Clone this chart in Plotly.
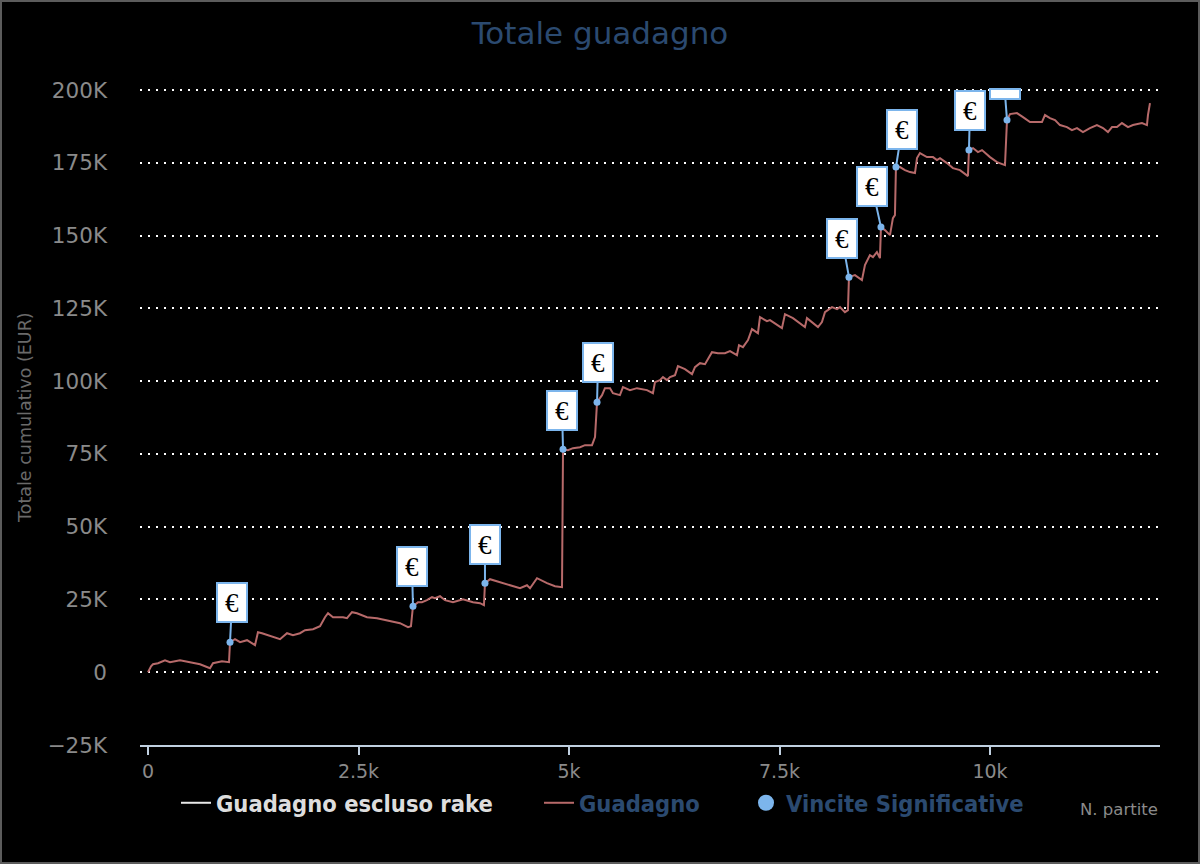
import plotly.graph_objects as go

# ---- data ----
games = [0, 36, 59, 119, 202, 261, 380, 499, 618, 736, 772, 879, 962, 974,
         1033, 1093, 1176, 1271, 1306, 1354, 1485, 1568, 1651, 1722, 1805, 1865, 1960, 2043, 2102, 2138,
         2197, 2316, 2363, 2423, 2482, 2601, 2720, 2838, 2993, 3088, 3123, 3147,
         3207, 3254, 3313, 3373, 3408, 3468, 3527, 3622, 3741, 3860, 3943, 3990, 4002,
         4062, 4180, 4299, 4418, 4501, 4537, 4620, 4739, 4834, 4917, 4929,
         4988, 5047, 5131, 5190, 5273, 5309, 5321, 5333,
         5392, 5427, 5487, 5522, 5605, 5641, 5724, 5807, 5926, 5997, 6021, 6080, 6116, 6164, 6199,
         6259, 6294, 6377, 6461, 6496, 6556, 6615, 6698, 6769, 6852, 6912, 6995, 7019, 7066, 7126,
         7173, 7244, 7268, 7351, 7387, 7529, 7565, 7660, 7802, 7826, 7957, 8004, 8040, 8123, 8183,
         8218, 8277, 8313, 8325,
         8396, 8479, 8515, 8574, 8610, 8657, 8693, 8705,
         8752, 8812, 8847, 8871, 8883,
         8931, 8990, 9050, 9109, 9133, 9168, 9251, 9323, 9370, 9406, 9489, 9560, 9643, 9738, 9750,
         9798, 9857, 9905, 10000, 10083, 10178, 10202,
         10237, 10320, 10392, 10475, 10558, 10617, 10653, 10712, 10772, 10831, 10914, 10973, 11033,
         11104, 11187, 11270, 11342, 11401, 11449, 11508, 11567, 11639, 11698, 11805, 11864, 11876, 11900]

profit = [0, 2060, 2750, 3090, 4120, 3440, 4120, 3440, 2750, 1370, 3090, 3780, 3440, 10310,
          11340, 10310, 11000, 9280, 13740, 13400, 12030, 11340, 13400, 12710, 13400, 14430, 14780, 15810, 18900, 20270,
          18900, 18900, 18550, 20620, 20270, 18900, 18550, 17870, 16840, 15460, 15810, 22680,
          24050, 24050, 24740, 25770, 25430, 26110, 24740, 24050, 25080, 24050, 23710, 23020, 30580,
          31960, 30920, 29890, 28860, 29890, 28860, 32300, 30580, 29550, 29210, 76620,
          76280, 76970, 77310, 78000, 78000, 80750, 85560, 92770,
          95180, 97580, 97580, 95860, 95180, 97930, 96900, 97580, 96900, 95860, 99640, 100330, 101360, 100330, 101360,
          102050, 105140, 104110, 102390, 104800, 106170, 105830, 109950, 109610, 109610, 110300, 108920, 112360, 111670, 114080,
          117860, 116480, 121980, 120600, 120950, 118200, 123010, 121630, 118540, 121630, 118540, 120260, 123700, 125410, 124730,
          125410, 123700, 124380, 135720,
          136410, 134690, 139850, 143280, 142600, 144310, 142250, 152900,
          151870, 150150, 156000, 157030, 173520,
          173520, 172490, 171800, 171460, 176610, 178330, 176950, 176950, 175920, 176610, 174890, 173170, 172490, 170430, 179360,
          180050, 178670, 179360, 176950, 175240, 174210, 189670,
          191730, 192070, 190700, 188980, 188980, 188980, 191390, 190350, 189670, 187950, 187260, 186230, 186920,
          185540, 186920, 187950, 186920, 185540, 187260, 187260, 188640, 187260, 187950, 188640, 187950, 191390, 195510]

big_win_games = [974, 3147, 4002, 4929, 5333, 8325, 8705, 8883, 9750, 10202]
big_win_profit = [10310, 22680, 30580, 76620, 92770, 135720, 152900, 173520, 179360, 189670]

y_tickvals = [-25000, 0, 25000, 50000, 75000, 100000, 125000, 150000, 175000, 200000]
y_ticktext = ["−25K", "0", "25K", "50K", "75K", "100K", "125K", "150K", "175K", "200K"]
x_tickvals = [0, 2500, 5000, 7500, 10000]
x_ticktext = ["0", "2.5k", "5k", "7.5k", "10k"]

# ---- figure ----
L, R, T, B = 140, 40, 88, 119
W, H = 1200, 864
PW, PH = W - L - R, H - T - B
Y_TOP = 200000 + 2 * 225000 / 655.0  # tiny headroom so the 200K grid line is drawn

def px(x):
    return (x - L) / PW

def py(y):
    return (H - B - y) / PH

FONT = "DejaVu Sans"
LEG_FONT = "DejaVu Sans Condensed"
DARK = "#2b4a70"
BLUE = "#7cb5ec"
RED = "#b76a6a"

fig = go.Figure()

fig.add_trace(go.Scatter(
    x=[None], y=[None], mode="lines", name="Guadagno escluso rake",
    line=dict(color="#e8e8e8", width=2), legend="legend"))

fig.add_trace(go.Scatter(
    x=games, y=profit, mode="lines", name="Guadagno",
    line=dict(color=RED, width=2), legend="legend2", hoverinfo="x+y"))

fig.add_trace(go.Scatter(
    x=big_win_games, y=big_win_profit, mode="markers", name="Vincite Significative",
    marker=dict(color=BLUE, size=7), showlegend=False))

fig.add_trace(go.Scatter(
    x=[None], y=[None], mode="markers", name="Vincite Significative",
    marker=dict(color=BLUE, size=22), legend="legend3"))

# flag boxes (offsets of box centre from the point, in px)
offsets = [(2, -40), (-1, -40), (0, -39), (-1, -39), (1, -40),
           (-7, -39), (-9, -41), (6, -38), (1, -40), (-2, -26)]
for i, (gx, gy) in enumerate(zip(big_win_games, big_win_profit)):
    ax, ay = offsets[i]
    clipped = i == len(big_win_games) - 1
    fig.add_annotation(
        x=gx, y=gy, xref="x", yref="y",
        text=" " if clipped else "€",
        showarrow=True, arrowhead=0, arrowwidth=2, arrowcolor=BLUE,
        ax=ax, ay=ay, standoff=0, startstandoff=0,
        bgcolor="white", bordercolor=BLUE, borderwidth=2, borderpad=0,
        width=28, height=8 if clipped else 37,
        font=dict(family="Liberation Serif", size=27, color="black"),
    )

fig.add_annotation(
    x=px(1160), y=py(809), xref="paper", yref="paper",
    text="N. partite", showarrow=False, xanchor="right", yanchor="middle",
    font=dict(family=FONT, size=16.5, color="#8a8a8a"))

fig.add_annotation(
    x=px(25), y=py(418), xref="paper", yref="paper",
    text="Totale cumulativo (EUR)", showarrow=False, textangle=-90,
    xanchor="center", yanchor="middle",
    font=dict(family=FONT, size=17.5, color="#6a6a6a"))

# outer border
fig.add_shape(type="rect", xref="paper", yref="paper",
              x0=px(1), x1=px(1199), y0=py(863), y1=py(1),
              line=dict(color="#5c5c5c", width=2), layer="above")

leg_common = dict(orientation="h", xanchor="left", yanchor="middle", y=py(803),
                  bgcolor="rgba(0,0,0,0)", borderwidth=0, itemsizing="trace")

fig.update_layout(
    width=W, height=H,
    margin=dict(l=L, r=R, t=T, b=B),
    paper_bgcolor="black", plot_bgcolor="black",
    title=dict(text="Totale guadagno", x=0.5, xref="container", xanchor="center",
               y=1 - 33 / H, yanchor="middle",
               font=dict(family=FONT, size=31, color=DARK)),
    xaxis=dict(range=[-95, 12019], tickvals=x_tickvals, ticktext=x_ticktext,
               showgrid=False, zeroline=False, showline=True, linecolor="#c0d0e0", linewidth=2,
               ticks="outside", ticklen=8, tickwidth=2, tickcolor="#c0d0e0",
               tickfont=dict(family=FONT, size=19, color="#8a8a8a")),
    yaxis=dict(range=[-25000, Y_TOP], tickvals=y_tickvals, ticktext=y_ticktext,
               showgrid=True, gridcolor="white", gridwidth=2, griddash="2px,6px",
               zeroline=False, showline=False, ticks="", ticklabelstandoff=32,
               tickfont=dict(family=FONT, size=21.5, color="#8a8a8a")),
    legend=dict(x=px(176), font=dict(family=LEG_FONT, size=23.5, color="#dddddd", weight="bold"), **leg_common),
    legend2=dict(x=px(539), font=dict(family=LEG_FONT, size=23.5, color=DARK, weight="bold"), **leg_common),
    legend3=dict(x=px(746), font=dict(family=LEG_FONT, size=23.5, color=DARK, weight="bold"), **leg_common),
    hovermode="closest",
)

fig.write_html("out.html",
               config={"displayModeBar": False},
               post_script="document.body.style.margin='0';document.body.style.overflow='hidden';")
